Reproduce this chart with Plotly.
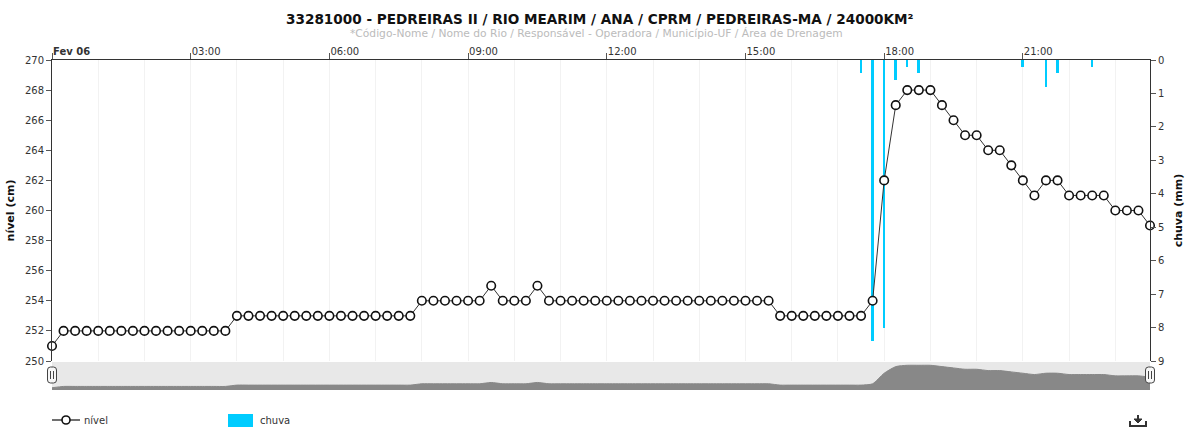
import pandas as pd
import plotly.graph_objects as go

# ---------------- data ----------------
tempos = pd.date_range("2025-02-06 00:00", "2025-02-06 23:45", freq="15min")

nivel = [
    251,
    252, 252, 252, 252, 252, 252, 252, 252, 252, 252, 252, 252, 252, 252, 252,
    253, 253, 253, 253, 253, 253, 253, 253, 253, 253, 253, 253, 253, 253, 253, 253,
    254, 254, 254, 254, 254, 254, 255, 254, 254, 254, 255,
    254, 254, 254, 254, 254, 254, 254, 254, 254, 254, 254, 254, 254, 254, 254, 254, 254, 254, 254, 254,
    253, 253, 253, 253, 253, 253, 253, 253,
    254, 262, 267, 268, 268, 268, 267, 266, 265, 265, 264, 264, 263, 262, 261,
    262, 262, 261, 261, 261, 261, 260, 260, 260, 259,
]

chuva_horas = ["17:30", "17:45", "18:00", "18:15", "18:30", "18:45", "21:00", "21:30", "21:45", "22:30"]
chuva_mm = [0.4, 8.4, 8.0, 0.6, 0.2, 0.4, 0.2, 0.8, 0.4, 0.2]

tick_horas = ["00:00", "03:00", "06:00", "09:00", "12:00", "15:00", "18:00", "21:00"]
tick_textos = ["<b>Fev 06</b>", "03:00", "06:00", "09:00", "12:00", "15:00", "18:00", "21:00"]

titulo = "33281000 - PEDREIRAS II / RIO MEARIM / ANA / CPRM / PEDREIRAS-MA / 24000KM²"
subtitulo = "*Código-Nome / Nome do Rio / Responsável - Operadora / Município-UF / Área de Drenagem"

# ---------------- helpers ----------------
DIA = "2025-02-06 "
chuva_t = [pd.Timestamp(DIA + h) for h in chuva_horas]
tick_t = [pd.Timestamp(DIA + h) for h in tick_horas]

W, H = 1192, 428
L, R, T, B = 52, 42, 60, 38
PW, PH = W - L - R, H - T - B


def px(x):
    return (x - L) / PW


def py(y):
    return (H - B - y) / PH


FONT = "DejaVu Sans"
CYAN = "#00CCFF"
DARK = "#333333"

fig = go.Figure()

# rain bars (base axis, right side, reversed)
fig.add_trace(go.Bar(
    x=chuva_t, y=chuva_mm, xaxis="x", yaxis="y",
    width=150000, marker=dict(color=CYAN, line=dict(width=0)),
    name="chuva", showlegend=False, hoverinfo="x+y",
))

# level line (overlay axis, left side)
fig.add_trace(go.Scatter(
    x=tempos, y=nivel, xaxis="x", yaxis="y2",
    mode="lines+markers", name="nível", showlegend=False,
    line=dict(color=DARK, width=1),
    marker=dict(symbol="circle", size=8.5, color="white", line=dict(color="#111111", width=1.6)),
    cliponaxis=False,
))

# navigator area
fig.add_trace(go.Scatter(
    x=tempos, y=nivel, xaxis="x2", yaxis="y3",
    mode="lines", line=dict(color="#888888", width=1, shape="spline", smoothing=0.6),
    fill="tozeroy", fillcolor="#888888", showlegend=False, hoverinfo="skip",
))

t0 = tempos[0]
t1 = tempos[-1]
slider_top = (390 - 361) / PH

fig.update_layout(
    width=W, height=H,
    margin=dict(l=L, r=R, t=T, b=B, autoexpand=False),
    paper_bgcolor="white", plot_bgcolor="white",
    font=dict(family=FONT, size=10, color=DARK),
    bargap=0,
    xaxis=dict(
        type="date", range=[t0, t1], side="top", anchor="y",
        domain=[0, 1],
        tickvals=tick_t, ticktext=tick_textos,
        ticks="outside", ticklen=6, tickcolor="#555555", tickwidth=1,
        ticklabelposition="outside right",
        tickfont=dict(size=10, color=DARK),
        showline=True, linecolor=DARK, linewidth=1,
        showgrid=True, gridcolor="#f2f2f2", gridwidth=1,
        minor=dict(dtick=3600000, showgrid=True, gridcolor="#f2f2f2", gridwidth=1),
        zeroline=False, fixedrange=True,
    ),
    yaxis=dict(
        domain=[slider_top, 1], anchor="x", side="right",
        range=[9, 0], dtick=1,
        ticks="outside", ticklen=5, tickcolor="#555555",
        showline=True, linecolor=DARK, linewidth=1,
        showgrid=False, zeroline=False,
        tickfont=dict(size=10, color=DARK),
        title=dict(text="<b>chuva (mm)</b>", font=dict(size=11, color="#111111"), standoff=10),
    ),
    yaxis2=dict(
        overlaying="y", side="left", anchor="x",
        range=[250, 270], dtick=2,
        ticks="outside", ticklen=5, tickcolor="#555555",
        showline=True, linecolor=DARK, linewidth=1,
        showgrid=False, zeroline=False,
        tickfont=dict(size=10, color=DARK),
        title=dict(text="<b>nível (cm)</b>", font=dict(size=11, color="#111111"), standoff=8),
    ),
    xaxis2=dict(type="date", range=[t0, t1], anchor="y3", domain=[0, 1], visible=False),
    yaxis3=dict(domain=[0, slider_top - 0.003], range=[249.3, 270.5], visible=False, fixedrange=True),
    showlegend=False,
)

shapes = []
# navigator background
shapes.append(dict(type="rect", xref="paper", yref="paper", x0=0, x1=1, y0=0, y1=slider_top - 0.003,
                   fillcolor="#e8e8e8", line=dict(width=0), layer="below"))


def handle(cx):
    x0, x1 = px(cx - 4.5), px(cx + 4.5)
    y0, y1 = py(383), py(367)
    rx, ry = 3 / PW, 3 / PH
    path = (f"M {x0+rx},{y1} L {x1-rx},{y1} Q {x1},{y1} {x1},{y1-ry} L {x1},{y0+ry} "
            f"Q {x1},{y0} {x1-rx},{y0} L {x0+rx},{y0} Q {x0},{y0} {x0},{y0+ry} "
            f"L {x0},{y1-ry} Q {x0},{y1} {x0+rx},{y1} Z")
    out = [dict(type="path", xref="paper", yref="paper", path=path,
                fillcolor="#f7f7f7", line=dict(color="#444444", width=1), layer="above")]
    for dx in (-1.5, 1.5):
        out.append(dict(type="line", xref="paper", yref="paper",
                        x0=px(cx + dx), x1=px(cx + dx), y0=py(371), y1=py(379),
                        line=dict(color="#444444", width=1), layer="above"))
    return out


shapes += handle(52) + handle(1150)

# manual legend
shapes.append(dict(type="line", xref="paper", yref="paper", x0=px(52), x1=px(80), y0=py(420), y1=py(420),
                   line=dict(color="#111111", width=1.2)))
shapes.append(dict(type="circle", xref="paper", yref="paper", x0=px(62), x1=px(70), y0=py(424), y1=py(416),
                   fillcolor="white", line=dict(color="#111111", width=1.6)))
shapes.append(dict(type="rect", xref="paper", yref="paper", x0=px(228), x1=px(253), y0=py(427), y1=py(414),
                   fillcolor=CYAN, line=dict(width=0)))

# download icon
shapes.append(dict(type="path", xref="paper", yref="paper",
                   path=f"M {px(1130)},{py(421)} L {px(1130)},{py(426)} L {px(1146)},{py(426)} L {px(1146)},{py(421)}",
                   line=dict(color="#333333", width=2)))
shapes.append(dict(type="line", xref="paper", yref="paper", x0=px(1138), x1=px(1138), y0=py(415), y1=py(422),
                   line=dict(color="#333333", width=2)))
shapes.append(dict(type="path", xref="paper", yref="paper",
                   path=f"M {px(1134)},{py(419)} L {px(1138)},{py(423)} L {px(1142)},{py(419)} Z",
                   fillcolor="#333333", line=dict(color="#333333", width=1)))

fig.update_layout(shapes=shapes)

annotations = [
    dict(text=f"<b>{titulo}</b>", xref="paper", yref="paper", x=px(600), y=py(19),
         xanchor="center", yanchor="middle", showarrow=False,
         font=dict(family=FONT, size=13.6, color="#111111")),
    dict(text=subtitulo, xref="paper", yref="paper", x=px(596), y=py(33),
         xanchor="center", yanchor="middle", showarrow=False,
         font=dict(family=FONT, size=10.7, color="#bbbbbb")),
    dict(text="nível", xref="paper", yref="paper", x=px(82), y=py(420),
         xanchor="left", yanchor="middle", showarrow=False,
         font=dict(family=FONT, size=10, color=DARK)),
    dict(text="chuva", xref="paper", yref="paper", x=px(258), y=py(420),
         xanchor="left", yanchor="middle", showarrow=False,
         font=dict(family=FONT, size=10, color=DARK)),
]
fig.update_layout(annotations=annotations)

fig.write_html(
    "out.html",
    config={"displayModeBar": False},
    post_script="document.body.style.margin='0px';document.body.style.overflow='hidden';",
)
